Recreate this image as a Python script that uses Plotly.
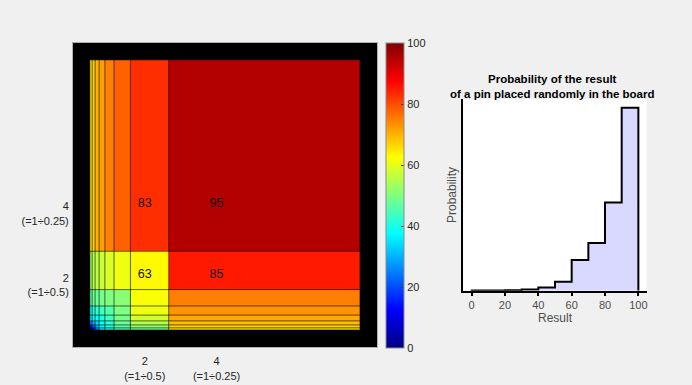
import plotly.graph_objects as go

# ---------------- data ----------------
# board cell boundaries (log2 units): 4/(2k+1)
board_edges = [4/17, 4/15, 4/13, 4/11, 4/9, 4/7, 4/5, 4/3, 4]
# cell scores, bottom row first, left column first
board_scores = [
    [5, 14, 26, 36, 40, 45, 49, 65],
    [14, 22, 30, 37, 41, 46, 52, 67],
    [26, 30, 34, 38, 42, 48, 55, 69],
    [36, 37, 38, 40, 44, 49, 58, 71],
    [40, 41, 42, 44, 46, 50, 61, 73],
    [47, 48, 48, 49, 50, 51, 62, 75],
    [54, 55, 56, 57, 59, 61, 63, 85],
    [65, 67, 70, 72, 75, 78, 83, 95],
]
tick_vals = [1, 2]
x_tick_text = ["2<br>(=1÷0.5)", "4<br>(=1÷0.25)"]
y_tick_text = ["\u00a0<br>2<br>(=1÷0.5)", "\u00a0<br>4<br>(=1÷0.25)"]
label_x = [1, 2, 1, 2]
label_y = [2, 2, 1, 1]
colorbar_ticks = [0, 20, 40, 60, 80, 100]

hist_edges = [0, 10, 20, 30, 40, 50, 60, 70, 80, 90, 100]
hist_prob = [0.0003, 0.0007, 0.0015, 0.003, 0.009, 0.0246, 0.084, 0.130, 0.241, 0.500]
hist_ticks = [0, 20, 40, 60, 80, 100]

# ---------------- figure ----------------
FONT = "Liberation Sans, Arial, Helvetica, sans-serif"
TXT = "#262626"
W, H = 692, 385

jet = [[0.0, "rgb(0,0,128)"], [0.125, "rgb(0,0,255)"], [0.375, "rgb(0,255,255)"],
       [0.625, "rgb(255,255,0)"], [0.875, "rgb(255,0,0)"], [1.0, "rgb(128,0,0)"]]

fig = go.Figure()

fig.add_trace(go.Heatmap(
    x=board_edges, y=board_edges, z=board_scores,
    zmin=0, zmax=100, colorscale=jet, hoverinfo="skip",
    colorbar=dict(
        x=386.5 / W, xanchor="left", thickness=18, xpad=0, ypad=0,
        y=1 - 195.8 / H, yanchor="middle", len=305 / H, lenmode="fraction",
        outlinewidth=1, outlinecolor="#8c8c8c",
        tickvals=colorbar_ticks, ticks="inside", ticklen=3, tickcolor="#404040",
        tickfont=dict(family=FONT, size=11, color=TXT),
    ),
    xaxis="x", yaxis="y",
))

# grid lines between cells
lo, hi = board_edges[0], board_edges[-1]
gx, gy = [], []
for e in board_edges:
    gx += [e, e, None]
    gy += [lo, hi, None]
    gx += [lo, hi, None]
    gy += [e, e, None]
fig.add_trace(go.Scatter(x=gx, y=gy, mode="lines",
                         line=dict(color="rgba(0,0,0,0.6)", width=1),
                         hoverinfo="skip", showlegend=False, xaxis="x", yaxis="y"))

# score labels
def cell_value(xv, yv):
    ci = max(i for i in range(len(board_edges) - 1) if board_edges[i] <= xv)
    ri = max(i for i in range(len(board_edges) - 1) if board_edges[i] <= yv)
    return board_scores[ri][ci]

fig.add_trace(go.Scatter(
    x=label_x, y=label_y, mode="text",
    text=[str(cell_value(a, b)) for a, b in zip(label_x, label_y)],
    textfont=dict(family=FONT, size=12.5, color="#111111"),
    hoverinfo="skip", showlegend=False, xaxis="x", yaxis="y"))

# stairs histogram
sx = [hist_edges[0]] + hist_edges[:-1] + [hist_edges[-1], hist_edges[-1]]
sy = [0] + hist_prob + [hist_prob[-1], 0]
fig.add_trace(go.Scatter(
    x=sx, y=sy, mode="lines", line=dict(shape="hv", color="black", width=2),
    fill="tozeroy", fillcolor="rgb(217,217,255)",
    hoverinfo="skip", showlegend=False, xaxis="x2", yaxis="y2"))

rng = [0, board_edges[-1] + board_edges[0]]
fig.update_layout(
    width=W, height=H, margin=dict(l=0, r=0, t=0, b=0),
    paper_bgcolor="#f0f0f0", plot_bgcolor="white",
    font=dict(family=FONT, size=11, color=TXT),
    showlegend=False,
    xaxis=dict(domain=[73 / W, 377 / W], range=rng, tickvals=tick_vals, ticktext=x_tick_text,
               ticks="outside", ticklen=4, tickcolor="rgba(0,0,0,0)",
               showgrid=False, zeroline=False, showline=True, linecolor="#b0b0b0",
               mirror=True, tickfont=dict(size=11, color=TXT)),
    yaxis=dict(domain=[1 - 347 / H, 1 - 43 / H], range=rng, tickvals=tick_vals, ticktext=y_tick_text,
               ticks="outside", ticklen=1, tickcolor="rgba(0,0,0,0)", ticklabelshift=3,
               showgrid=False, zeroline=False, showline=True, linecolor="#b0b0b0",
               mirror=True, tickfont=dict(size=11, color=TXT)),
    xaxis2=dict(domain=[463.3 / W, 646.7 / W], range=[-5, 105], tickvals=hist_ticks,
                ticks="outside", ticklen=3, tickcolor="black", tickwidth=1.5,
                showgrid=False, zeroline=False, showline=True, linecolor="black", linewidth=2,
                anchor="y2", tickfont=dict(size=11, color="#4d4d4d"),
                title=dict(text="Result", standoff=1, font=dict(size=12, color="#4d4d4d"))),
    yaxis2=dict(domain=[1 - 290.7 / H, 1 - 99.3 / H], range=[0, 0.523],
                showticklabels=False, ticks="", showgrid=False, zeroline=False,
                showline=True, linecolor="black", linewidth=2, anchor="x2",
                title=dict(text="Probability", standoff=2, font=dict(size=12, color="#4d4d4d"))),
    shapes=[dict(type="rect", xref="x domain", yref="y domain", x0=0, x1=1, y0=0, y1=1,
                 fillcolor="black", line=dict(width=0), layer="below")],
    annotations=[dict(text="<b>Probability of the result<br>of a pin placed randomly in the board</b>",
                      xref="paper", yref="paper", x=552 / W, y=1 - 87 / H,
                      xanchor="center", yanchor="middle", showarrow=False,
                      font=dict(size=11.5, color="black"))],
)

fig.write_html("out.html")
